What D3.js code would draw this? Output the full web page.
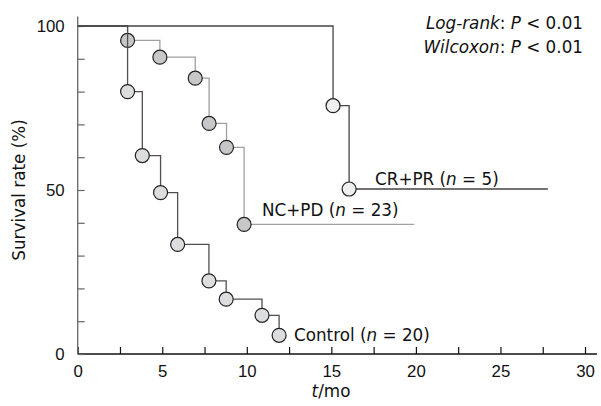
<!DOCTYPE html>
<html>
<head>
<meta charset="utf-8">
<script src="https://cdn.jsdelivr.net/npm/d3@7"></script>
<style>
	body { margin: 0; background: #fff; }
	svg { font-family: "DejaVu Sans", Verdana, sans-serif; }
</style>
</head>
<body>
<div id="graphArea"></div>
<script>
// survival curves (time in months, survival in %)
var controlTimes = [0, 2.95, 3.82, 4.9, 5.91, 7.76, 8.78, 10.9, 11.91]
var controlSurv = [100, 80, 60.5, 49.2, 33.4, 22.3, 16.7, 11.8, 5.7]
var controlEnd = 11.91

var ncpdTimes = [0, 2.95, 4.86, 6.95, 7.77, 8.8, 9.84]
var ncpdSurv = [100, 95.6, 90.5, 84.1, 70.3, 63, 39.5]
var ncpdEnd = 19.9

var crprTimes = [0, 15.1, 16.05]
var crprSurv = [100, 75.7, 50.3]
var crprEnd = 27.8

var xTickLabels = [0, 5, 10, 15, 20, 25, 30]
var yTickLabels = [0, 50, 100]

var width = 601
var height = 406
var fontSize = 16.8
var margin = {left: 77.7}

var svg = d3.select("#graphArea")
	.append("svg")
	.attr("width", width)
	.attr("height", height)

var x = d3.scaleLinear()
	.domain([0, 30])
	.range([margin.left, 585])
var y = d3.scaleLinear()
	.domain([0, 100])
	.range([354, 26])

// x axis, ticks every 2.5, labels on multiples of 5
var xAxis = svg.append("g")
	.attr("transform", "translate(0,354)")
	.call(d3.axisBottom(x)
		.tickValues(d3.range(0, 30.1, 2.5))
		.tickSizeInner(-7)
		.tickSizeOuter(0)
		.tickPadding(11)
		.tickFormat(function(d) { return xTickLabels.indexOf(d) >= 0 ? d : "" }))
xAxis.select(".domain").attr("d", "M" + margin.left + ",0H597").attr("stroke", "#111").attr("stroke-width", 1.3)
xAxis.selectAll(".tick line").attr("stroke", "#111").attr("stroke-width", 1.2)
xAxis.selectAll("text").attr("font-size", fontSize).attr("fill", "#111").attr("font-family", null)

// y axis, ticks every 10, labels on 0, 50, 100
var yAxis = svg.append("g")
	.attr("transform", "translate(" + margin.left + ",0)")
	.call(d3.axisLeft(y)
		.tickValues(d3.range(0, 101, 10))
		.tickSizeInner(-7)
		.tickSizeOuter(0)
		.tickPadding(13)
		.tickFormat(function(d) { return yTickLabels.indexOf(d) >= 0 ? d : "" }))
yAxis.select(".domain").attr("d", "M0,16.5V354").attr("stroke", "#666").attr("stroke-width", 1.3)
yAxis.selectAll(".tick line").attr("stroke", "#666").attr("stroke-width", 1.2)
yAxis.selectAll("text").attr("font-size", fontSize).attr("fill", "#111").attr("font-family", null)

// builds a step path from the time / survival arrays
function stepPath(times, surv, end) {
	var pts = []
	for (var i = 0; i < times.length; i++) {
		pts.push([times[i], surv[i]])
	}
	pts.push([end, surv[surv.length - 1]])
	return d3.line()
		.x(function(d) { return x(d[0]) })
		.y(function(d) { return y(d[1]) })
		.curve(d3.curveStepAfter)(pts)
}

function curve(times, surv, end, lineColor, fill) {
	svg.append("path")
		.attr("d", stepPath(times, surv, end))
		.attr("fill", "none")
		.attr("stroke", lineColor)
		.attr("stroke-width", 1.3)
	var pts = []
	for (var i = 1; i < times.length; i++) pts.push([times[i], surv[i]])
	svg.append("g").selectAll("circle")
		.data(pts)
		.enter()
		.append("circle")
		.attr("cx", function(d) { return x(d[0]) })
		.attr("cy", function(d) { return y(d[1]) })
		.attr("r", 7)
		.attr("fill", fill)
		.attr("stroke", "#222")
		.attr("stroke-width", 1.2)
}

curve(ncpdTimes, ncpdSurv, ncpdEnd, "#a0a0a0", "#c6c7c9")
curve(controlTimes, controlSurv, controlEnd, "#505050", "#dcdddf")
curve(crprTimes, crprSurv, crprEnd, "#444", "#eeeff1")

// group labels
function label(xp, yp, name, n) {
	var t = svg.append("text")
		.attr("x", xp)
		.attr("y", yp)
		.attr("font-size", fontSize)
		.attr("fill", "#111")
	t.append("tspan").text(name + " (")
	t.append("tspan").attr("font-style", "italic").text("n")
	t.append("tspan").text(" = " + n + ")")
}
label(375, 185, "CR+PR", 5)
label(262, 216, "NC+PD", 23)
label(294, 341, "Control", 20)

// test statistics
function stat(yp, name) {
	var t = svg.append("text")
		.attr("x", 583)
		.attr("y", yp)
		.attr("text-anchor", "end")
		.attr("font-size", fontSize)
		.attr("fill", "#111")
	t.append("tspan").attr("font-style", "italic").text(name)
	t.append("tspan").text(": ")
	t.append("tspan").attr("font-style", "italic").text("P")
	t.append("tspan").text(" < 0.01")
}
stat(29, "Log-rank")
stat(53, "Wilcoxon")

// axis titles
svg.append("text")
	.attr("transform", "translate(25,190) rotate(-90)")
	.attr("text-anchor", "middle")
	.attr("font-size", fontSize)
	.attr("fill", "#111")
	.text("Survival rate (%)")

var xt = svg.append("text")
	.attr("x", 331)
	.attr("y", 397)
	.attr("text-anchor", "middle")
	.attr("font-size", fontSize)
	.attr("fill", "#111")
xt.append("tspan").attr("font-style", "italic").text("t")
xt.append("tspan").text("/mo")
</script>
</body>
</html>
